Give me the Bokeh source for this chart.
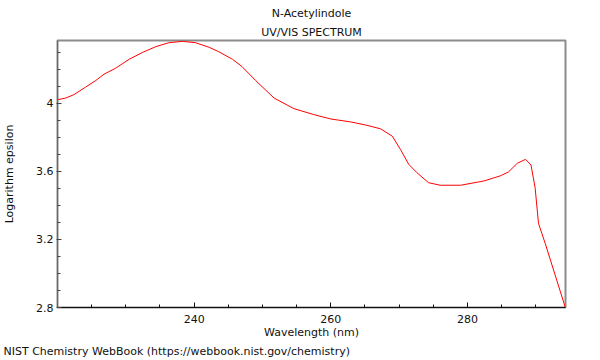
from bokeh.plotting import figure
from bokeh.models import FixedTicker, Title, Range1d
from bokeh.embed import file_html
from bokeh.resources import INLINE

# --- data ---
wavelength_nm = [220.0, 221.2, 222.4, 224.1, 225.6, 226.8, 228.5, 230.5, 232.4, 234.4,
                 236.3, 238.3, 240.2, 242.2, 243.6, 245.6, 247.0, 249.0, 251.7, 254.6,
                 257.5, 260.0, 262.9, 265.3, 267.3, 269.0, 270.2, 271.4, 272.6, 274.3,
                 276.0, 279.0, 282.4, 284.8, 286.0, 287.3, 288.5, 289.3, 289.9, 290.4,
                 291.4, 294.3]
log_epsilon = [4.020, 4.030, 4.050, 4.094, 4.133, 4.170, 4.205, 4.258, 4.297, 4.332,
               4.355, 4.363, 4.355, 4.328, 4.302, 4.258, 4.215, 4.133, 4.030, 3.968,
               3.933, 3.907, 3.890, 3.870, 3.849, 3.806, 3.728, 3.641, 3.592, 3.533,
               3.518, 3.518, 3.543, 3.573, 3.596, 3.647, 3.670, 3.637, 3.504, 3.294,
               3.174, 2.803]

x_major_ticks = [240, 260, 280]
x_minor_ticks = [225, 230, 235, 245, 250, 255, 265, 270, 275, 285, 290]
y_major_ticks = [2.8, 3.2, 3.6, 4.0]
y_major_labels = ["2.8", "3.2", "3.6", "4"]
y_minor_ticks = [2.9, 3.0, 3.1, 3.3, 3.4, 3.5, 3.7, 3.8, 3.9, 4.1, 4.2, 4.3]

title_line1 = "N-Acetylindole"
title_line2 = "UV/VIS SPECTRUM"
x_label = "Wavelength (nm)"
y_label = "Logarithm epsilon"
footer = "NIST Chemistry WebBook (https://webbook.nist.gov/chemistry)"

FONT = "DejaVu Sans"
FS = "11px"

p = figure(width=600, height=360,
           x_range=Range1d(220, 294.35), y_range=Range1d(2.8, 4.368),
           output_backend="svg", toolbar_location=None,
           title=title_line1)
p.min_border_left = 57
p.min_border_right = 35
p.min_border_top = 40
p.min_border_bottom = 53

p.xgrid.visible = False
p.ygrid.visible = False
p.background_fill_color = "white"
p.border_fill_color = "white"
p.outline_line_color = "#8c8c8c"
p.outline_line_width = 2

p.title.align = "center"
p.title.text_font = FONT
p.title.text_font_size = FS
p.title.text_font_style = "normal"
p.title.text_color = "#111111"
p.title.standoff = 3

t2 = Title(text=title_line2, align="center", text_font=FONT, text_font_size=FS,
           text_font_style="normal", text_color="#111111", standoff=4)
p.add_layout(t2, "above")

p.line(wavelength_nm, log_epsilon, line_color="#ff0000", line_width=1)

# x axis
xa = p.xaxis[0]
xa.ticker = FixedTicker(ticks=x_major_ticks, minor_ticks=x_minor_ticks)
xa.axis_label = x_label
xa.axis_label_text_font = FONT
xa.axis_label_text_font_size = FS
xa.axis_label_text_font_style = "normal"
xa.axis_label_text_color = "#111111"
xa.axis_label_standoff = 0
xa.major_label_text_font = FONT
xa.major_label_text_font_size = FS
xa.major_label_text_color = "#111111"
xa.major_label_standoff = 7
xa.axis_line_color = "#111111"
xa.major_tick_line_color = "#111111"
xa.minor_tick_line_color = "#111111"
xa.major_tick_in = 5
xa.major_tick_out = 0
xa.minor_tick_in = 3
xa.minor_tick_out = 0

# y axis
ya = p.yaxis[0]
ya.ticker = FixedTicker(ticks=y_major_ticks, minor_ticks=y_minor_ticks)
ya.major_label_overrides = dict(zip(y_major_ticks, y_major_labels))
ya.axis_label = y_label
ya.axis_label_text_font = FONT
ya.axis_label_text_font_size = FS
ya.axis_label_text_font_style = "normal"
ya.axis_label_text_color = "#111111"
ya.axis_label_standoff = 17
ya.major_label_text_font = FONT
ya.major_label_text_font_size = FS
ya.major_label_text_color = "#111111"
ya.major_label_standoff = 3
ya.axis_line_color = "#666666"
ya.major_tick_line_color = "#444444"
ya.minor_tick_line_color = "#444444"
ya.major_tick_in = 4
ya.major_tick_out = 1
ya.minor_tick_in = 3
ya.minor_tick_out = 0

foot = Title(text=footer, align="left", text_font=FONT, text_font_size=FS,
             text_font_style="normal", text_color="#111111", standoff=3, offset=-54)
p.add_layout(foot, "below")

open("out.html", "w").write(file_html(p, INLINE))
